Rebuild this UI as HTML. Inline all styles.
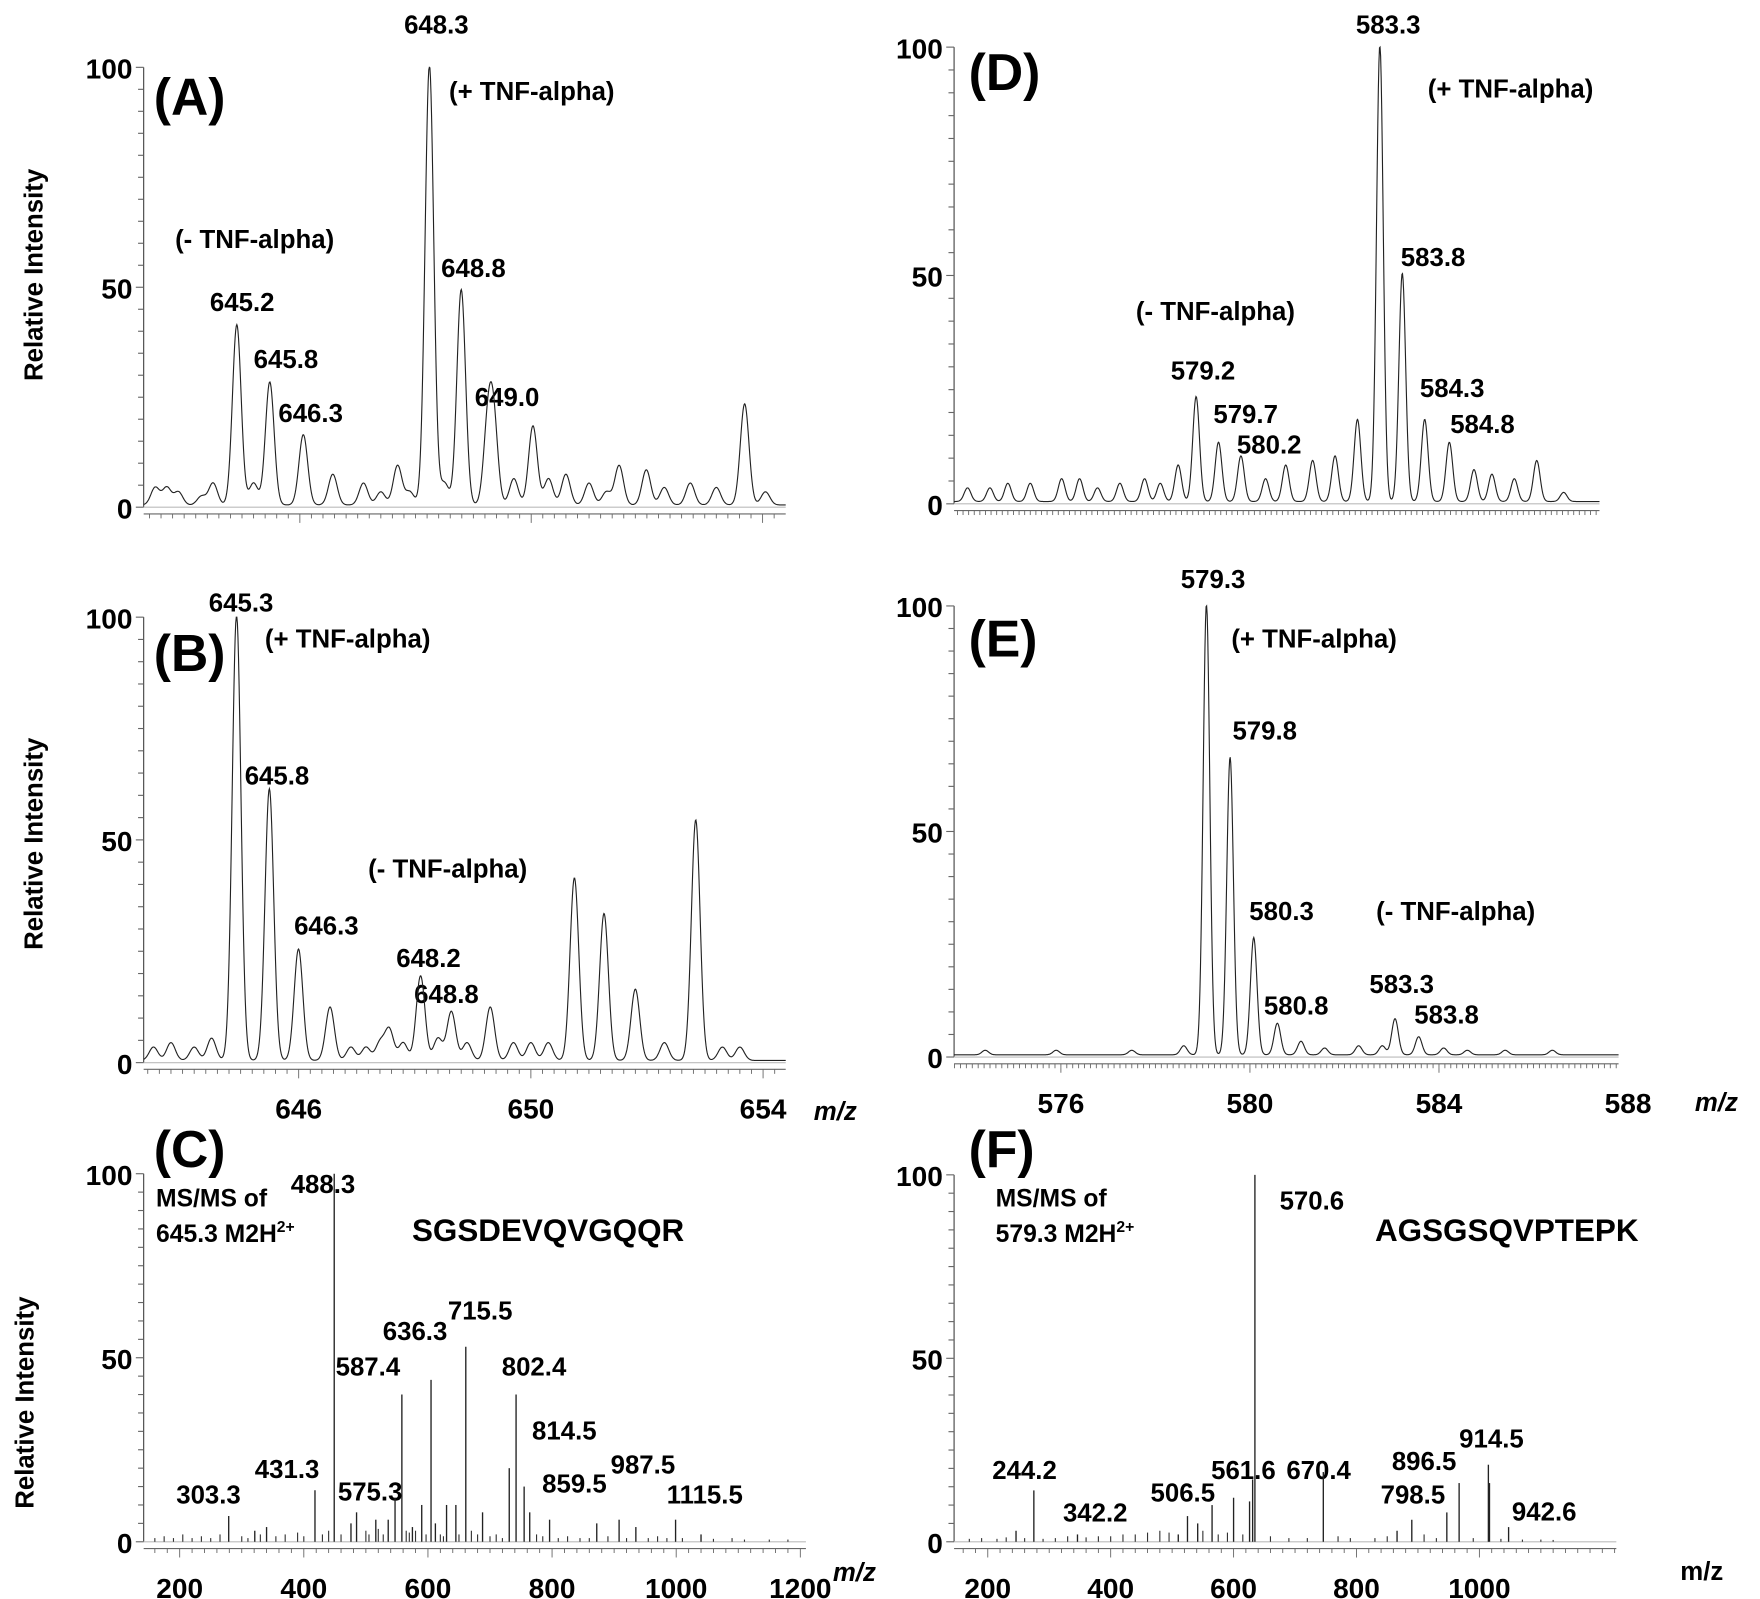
<!DOCTYPE html>
<html><head><meta charset="utf-8"><style>
html,body{margin:0;padding:0;background:#fff;}
svg{display:block;}
text{font-family:"Liberation Sans Narrow","Liberation Sans",sans-serif;font-weight:bold;fill:#000;}
</style></head><body>
<svg id="fig" width="1760" height="1599" viewBox="0 0 1568 1425" preserveAspectRatio="none" xmlns="http://www.w3.org/2000/svg">
<g id="labels" font-size="23">
<text x="38" y="245" transform="rotate(-90 38 245)" text-anchor="middle" font-size="23" style="font-family:'Liberation Sans',sans-serif">Relative Intensity</text>
<text x="38" y="752" transform="rotate(-90 38 752)" text-anchor="middle" font-size="23" style="font-family:'Liberation Sans',sans-serif">Relative Intensity</text>
<text x="30" y="1250" transform="rotate(-90 30 1250)" text-anchor="middle" font-size="23" style="font-family:'Liberation Sans',sans-serif">Relative Intensity</text>

<text x="137" y="102" font-size="46">(A)</text>
<text x="360" y="30">648.3</text>
<text x="400" y="89">(+ TNF-alpha)</text>
<text x="156" y="221">(- TNF-alpha)</text>
<text x="393" y="247">648.8</text>
<text x="187" y="277">645.2</text>
<text x="226" y="328">645.8</text>
<text x="248" y="376">646.3</text>
<text x="423" y="362">649.0</text>

<text x="137" y="598" font-size="46">(B)</text>
<text x="186" y="545">645.3</text>
<text x="236" y="577">(+ TNF-alpha)</text>
<text x="218" y="699">645.8</text>
<text x="328" y="782">(- TNF-alpha)</text>
<text x="262" y="833">646.3</text>
<text x="353" y="862">648.2</text>
<text x="369" y="894">648.8</text>
<text x="725" y="998" font-style="italic">m/z</text>

<text x="137" y="1040" font-size="46">(C)</text>
<text x="259" y="1063">488.3</text>
<text x="139" y="1075" font-size="22">MS/MS of</text>
<text x="139" y="1107" font-size="22">645.3 M2H<tspan dy="-9" font-size="14">2+</tspan></text>
<text x="367" y="1106" font-size="28" style="font-family:'Liberation Sans',sans-serif">SGSDEVQVGQQR</text>
<text x="399" y="1176">715.5</text>
<text x="341" y="1194">636.3</text>
<text x="299" y="1226">587.4</text>
<text x="447" y="1226">802.4</text>
<text x="474" y="1283">814.5</text>
<text x="544" y="1313">987.5</text>
<text x="227" y="1317">431.3</text>
<text x="483" y="1330">859.5</text>
<text x="157" y="1340">303.3</text>
<text x="301" y="1337">575.3</text>
<text x="594" y="1340">1115.5</text>
<text x="742" y="1409" font-style="italic">m/z</text>

<text x="863" y="80" font-size="46">(D)</text>
<text x="1208" y="30">583.3</text>
<text x="1272" y="87">(+ TNF-alpha)</text>
<text x="1248" y="237">583.8</text>
<text x="1012" y="285">(- TNF-alpha)</text>
<text x="1043" y="338">579.2</text>
<text x="1265" y="354">584.3</text>
<text x="1081" y="377">579.7</text>
<text x="1292" y="386">584.8</text>
<text x="1102" y="404">580.2</text>

<text x="863" y="585" font-size="46">(E)</text>
<text x="1052" y="524">579.3</text>
<text x="1097" y="577">(+ TNF-alpha)</text>
<text x="1098" y="659">579.8</text>
<text x="1113" y="820">580.3</text>
<text x="1226" y="820">(- TNF-alpha)</text>
<text x="1126" y="904">580.8</text>
<text x="1220" y="885">583.3</text>
<text x="1260" y="912">583.8</text>
<text x="1510" y="990" font-style="italic">m/z</text>

<text x="863" y="1040" font-size="46">(F)</text>
<text x="1140" y="1078">570.6</text>
<text x="887" y="1075" font-size="22">MS/MS of</text>
<text x="887" y="1107" font-size="22">579.3 M2H<tspan dy="-9" font-size="14">2+</tspan></text>
<text x="1225" y="1106" font-size="28" style="font-family:'Liberation Sans',sans-serif">AGSGSQVPTEPK</text>
<text x="1300" y="1290">914.5</text>
<text x="1079" y="1318">561.6</text>
<text x="1146" y="1318">670.4</text>
<text x="1240" y="1310">896.5</text>
<text x="884" y="1318">244.2</text>
<text x="1025" y="1338">506.5</text>
<text x="1230" y="1340">798.5</text>
<text x="947" y="1356">342.2</text>
<text x="1347" y="1355">942.6</text>
<text x="1497" y="1408">m/z</text>
</g>
</svg>
<script>
// ---- data (m/z, relative intensity) ----
const aMz = [643.5,643.7,643.9,644.3,644.5,644.91,645.2,645.48,646.06,646.57,647.10,647.4,647.69,647.9,648.24,648.5,648.79,649.25,649.35,649.7,650.03,650.3,650.60,651.0,651.3,651.52,651.99,652.3,652.75,653.2,653.69,654.05];
const aInt = [4,4,3,2,5,41,5,28,16,7,5,3,9,3,100,5,49,17,18,6,18,6,7,5,3,9,8,4,5,4,23,3];
const bMz = [643.5,643.8,644.2,644.5,644.93,645.495,645.997,646.54,646.9,647.16,647.4,647.56,647.8,648.1,648.4,648.63,648.9,649.3,649.7,650.0,650.3,650.75,651.26,651.8,652.3,652.84,653.3,653.6];
const bInt = [3,4,3,5,100,61,25,12,3,3,4,7,4,19,5,11,4,12,4,4,4,41,33,16,4,54,3,3];
const dMz = [574.1,574.6,575.0,575.5,576.2,576.6,577.0,577.5,578.05,578.4,578.8,579.2,579.7,580.2,580.75,581.2,581.8,582.3,582.8,583.3,583.8,584.3,584.85,585.4,585.8,586.3,586.8,587.4];
const dInt = [3,3,4,4,5,5,3,4,5,4,8,23,13,10,5,8,9,10,18,100,50,18,13,7,6,5,9,2];
const eMz = [574.4,575.9,577.5,578.6,579.08,579.58,580.08,580.58,581.08,581.58,582.3,582.8,583.07,583.57,584.1,584.6,585.4,586.4];
const eInt = [1,1,1,2,100,66,26,7,3,1.5,2,2,8,4,1.5,1,1,1];
const cMz = [279,321,340,418,449,476,485,516,536,547,558,575,590,605,612,630,645,661,688,731,742,755,764,796,872,908,935,999,1040];
const cInt = [7,3,4,14,100,5,8,6,6,12,40,4,10,44,5,10,10,53,8,20,40,15,8,6,5,6,4,6,2];
const cNoiseMz = [160,175,190,205,220,235,250,265,300,310,330,355,370,390,400,430,440,460,500,505,520,528,565,570,580,597,620,625,650,670,680,700,710,720,775,785,810,825,845,860,890,920,955,970,985,1010,1060,1090,1110,1150,1180];
const cNoiseInt = [1,1.5,1,2,1,1.5,1,2,1.5,1,2,1.5,2,2.5,1.5,2,3,2,3,2,3.5,2,3,2.5,3,2,2,1.5,2,3,2,1.5,2,1,2,1.5,1,1.5,1,1,1.5,1,1,1.5,1,1,0.8,1,0.6,0.6,0.6];
const fMz = [246,275,346,510,525,541.6,565,600,626,631,634.7,746,866,890,947,967,1014.6,1016.4,1047.5];
const fInt = [3,14,2,2,7,5,10,12,11,17,100,19,3,6,8,16,21,16,4];
const fNoiseMz = [170,190,215,230,260,290,310,330,360,380,400,420,440,460,480,495,550,575,590,615,660,690,720,770,790,830,850,910,930,990,1035,1070,1100,1120];
const fNoiseInt = [0.8,1,0.8,1.2,1,0.8,1,1.5,1.2,1.5,1.5,2,2,2.5,3,2.5,3,2,2.5,2,1.5,1,1,1.5,1,1,1.5,2,1,1,0.8,0.6,0.6,0.5];

// ---- axis setup per panel (preview px coordinates) ----
const NS="http://www.w3.org/2000/svg";
const svg=document.getElementById('fig');
function mk(tag,attrs,parent){const e=document.createElementNS(NS,tag);for(const k in attrs)e.setAttribute(k,attrs[k]);(parent||svg).appendChild(e);return e;}

const panels=[
 {id:'a',x0:128,x1:700,y100:60,y0:452,m0:643.3,m1:654.4,mz:aMz,it:aInt,type:'profile',sig:0.075,minor:0.2,ticks:[],major:[646,650,654]},
 {id:'b',x0:128,x1:700,y100:550,y0:947,m0:643.33,m1:654.39,mz:bMz,it:bInt,type:'profile',sig:0.075,minor:0.2,ticks:[646,650,654],major:[646,650,654]},
 {id:'d',x0:850,x1:1425,y100:42,y0:449,m0:573.8,m1:588.2,mz:dMz,it:dInt,type:'profile',sig:0.075,minor:0.125,ticks:[],major:[]},
 {id:'e',x0:850,x1:1442,y100:540,y0:942,m0:573.74,m1:587.8,mz:eMz,it:eInt,type:'profile',sig:0.07,minor:0.125,ticks:[576,580,584,588],major:[576,580,584,588]},
 {id:'c',x0:128,x1:718,y100:1046,y0:1374,m0:142,m1:1209,mz:cMz,it:cInt,nmz:cNoiseMz,nit:cNoiseInt,type:'stick',minor:20,ticks:[200,400,600,800,1000,1200],major:[200,400,600,800,1000,1200]},
 {id:'f',x0:850,x1:1440,y100:1047,y0:1374,m0:145.2,m1:1222.8,mz:fMz,it:fInt,nmz:fNoiseMz,nit:fNoiseInt,type:'stick',minor:20,ticks:[200,400,600,800,1000],major:[200,400,600,800,1000]}
];

panels.forEach(p=>{
  const g=mk('g',{});
  
  
  const X=m=>p.x0+(m-p.m0)/(p.m1-p.m0)*(p.x1-p.x0);
  const Y=v=>p.y0-(v/100)*(p.y0-p.y100);
  const ya=mk('line',{x1:p.x0,y1:p.y100,x2:p.x0,y2:p.y0,stroke:'#444','stroke-width':1},g);
  
  
  for(let v=0;v<=100;v+=5){
    mk('line',{x1:p.x0-(v%50?5:7),y1:Y(v),x2:p.x0,y2:Y(v),stroke:'#666','stroke-width':1},g);
  }
  [0,50,100].forEach(v=>{
    const t=mk('text',{x:p.x0-10,y:Y(v)+10,'text-anchor':'end','font-size':25},g);
    t.textContent=v;
    
    
  });
  const xa=mk('line',{x1:p.x0,y1:p.y0+6,x2:p.x1,y2:p.y0+6,stroke:'#666','stroke-width':1},g);
  
  
  const start=Math.ceil(p.m0/p.minor)*p.minor;
  for(let m=start;m<=p.m1;m+=p.minor){
    const major=p.major.some(v=>Math.abs(v-m)<p.minor/2);
    mk('line',{x1:X(m),y1:p.y0+6,x2:X(m),y2:p.y0+(major?14:10),stroke:'#666','stroke-width':0.8},g);
  }
  p.ticks.forEach(v=>{
    const t=mk('text',{x:X(v),y:p.y0+50,'text-anchor':'middle','font-size':25},g);
    t.textContent=v;
    
    
  });
  mk('line',{x1:p.x0,y1:p.y0,x2:p.x1,y2:p.y0,stroke:'#bbb','stroke-width':1},g);
  if(p.type==='profile'){
    let d='';
    for(let px=p.x0;px<=p.x1;px+=0.5){
      const m=p.m0+(px-p.x0)/(p.x1-p.x0)*(p.m1-p.m0);
      let v=0.5;
      for(let i=0;i<p.mz.length;i++){const z=(m-p.mz[i])/p.sig;if(Math.abs(z)<5)v+=p.it[i]*Math.exp(-0.5*z*z);}
      d+=(d?'L':'M')+px.toFixed(1)+' '+Y(Math.min(v,100)).toFixed(1);
    }
    const path=mk('path',{d:d,fill:'none',stroke:'#222','stroke-width':1},g);
    
    
  } else {
    for(let i=0;i<p.nmz.length;i++){
      const s=mk('line',{x1:X(p.nmz[i]),y1:p.y0,x2:X(p.nmz[i]),y2:Y(p.nit[i]),stroke:'#333','stroke-width':1},g);
      
      
    }
    for(let i=0;i<p.mz.length;i++){
      const s=mk('line',{x1:X(p.mz[i]),y1:p.y0,x2:X(p.mz[i]),y2:Y(p.it[i]),stroke:'#222','stroke-width':1.2},g);
      
      
    }
  }
});
</script>
</body></html>
